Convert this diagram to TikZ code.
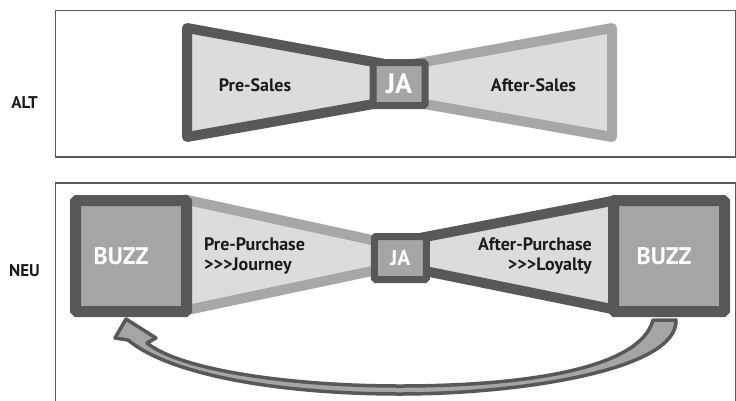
\documentclass[tikz,border=0pt]{standalone}
\usepackage{fontspec}
\setmainfont{PT Sans}[Ligatures=TeXOff]
\definecolor{dk}{HTML}{58585A}
\definecolor{lgs}{HTML}{A7A7A9}
\definecolor{lt}{HTML}{DCDCDE}
\definecolor{md}{HTML}{A5A5A8}
\definecolor{frm}{HTML}{5A5A5A}
\definecolor{txt}{HTML}{1A1A1A}
\newcommand\gts{>\kern0pt}
\begin{document}
\begin{tikzpicture}[x=1pt,y=-1pt,
  frame/.style={draw=frm, line width=1.2pt},
  trapdark/.style={draw=dk, fill=lt, line width=10pt, line join=round},
  traplight/.style={draw=lgs, fill=lt, line width=10pt, line join=round},
  jabox/.style={draw=dk, fill=md, line width=7pt, rounded corners=1.5pt, minimum width=52pt, minimum height=43pt, inner sep=0pt},
  buzzbox/.style={draw=dk, fill=md, line width=11pt, rounded corners=1.5pt, minimum width=111pt, minimum height=111pt, inner sep=0pt},
  whitetxt/.style={text=white, inner sep=0pt},
  lbl/.style={text=txt, inner sep=0pt, font=\bfseries\fontsize{18}{19.3}\selectfont},
  side/.style={text=txt, inner sep=0pt, font=\bfseries\fontsize{17}{18}\selectfont},
  bigarrow/.style={draw=dk, fill=md, line width=3.5pt, line join=round}
]
\useasboundingbox (0,0) rectangle (736,400);

% frames
\draw[frame] (55.5,10.5) rectangle (735.5,157);
\draw[frame] (55.5,183) rectangle (735.5,410);

% side labels
\node[side] (alt) at (24.5,103) {ALT};
\node[side] (neu) at (24.5,271) {NEU};

% ---------- ALT bow tie ----------
\filldraw[traplight] (612,28) -- (612,137) -- (413,102) -- (413,64) -- cycle;
\filldraw[trapdark] (187,28) -- (187,137) -- (385,102) -- (385,64) -- cycle;
\node[jabox] (ja1) at (399,84) {};
\node[whitetxt, font=\bfseries\fontsize{28}{30}\selectfont] (ja1t) at (ja1.center) {JA};
\node[lbl] (pres) at (255,85) {Pre-Sales};
\node[lbl] (afts) at (533.5,85) {After-Sales};

% ---------- NEU bow tie ----------
\filldraw[traplight] (185,199.5) -- (185,310.5) -- (385,268.3) -- (385,242.8) -- cycle;
\filldraw[trapdark] (615,200.4) -- (615,309.6) -- (415,269) -- (415,238.9) -- cycle;
\node[jabox] (ja2) at (400.3,258) {};
\node[whitetxt, font=\bfseries\fontsize{21.5}{22}\selectfont] (ja2t) at (ja2.center) {JA};

\node[buzzbox] (bzl) at (131,256) {};
\node[buzzbox] (bzr) at (669,256) {};
\node[whitetxt, font=\bfseries\fontsize{24}{25}\selectfont] (bzlt) at (121,256.5) {BUZZ};
\node[whitetxt, font=\bfseries\fontsize{24}{25}\selectfont] (bzrt) at (664,256.5) {BUZZ};

\node[lbl, align=left, anchor=west] (prep) at (204,256) {Pre-Purchase\\\gts\gts\gts Journey};
\node[lbl, align=right, anchor=east] (aftp) at (592,256) {After-Purchase\\\gts\gts\gts Loyalty};

% ---------- return arrow ----------
\filldraw[bigarrow] (676,320) .. controls (678,370) and (520,394) .. (400,394)
  .. controls (280,394) and (170,375) .. (128,340)
  -- (115,338) -- (126,319) -- (156,338) -- (147,343)
  .. controls (180,370) and (290,386) .. (400,386)
  .. controls (520,386) and (640,370) .. (653,320) -- cycle;
\end{tikzpicture}
\end{document}
